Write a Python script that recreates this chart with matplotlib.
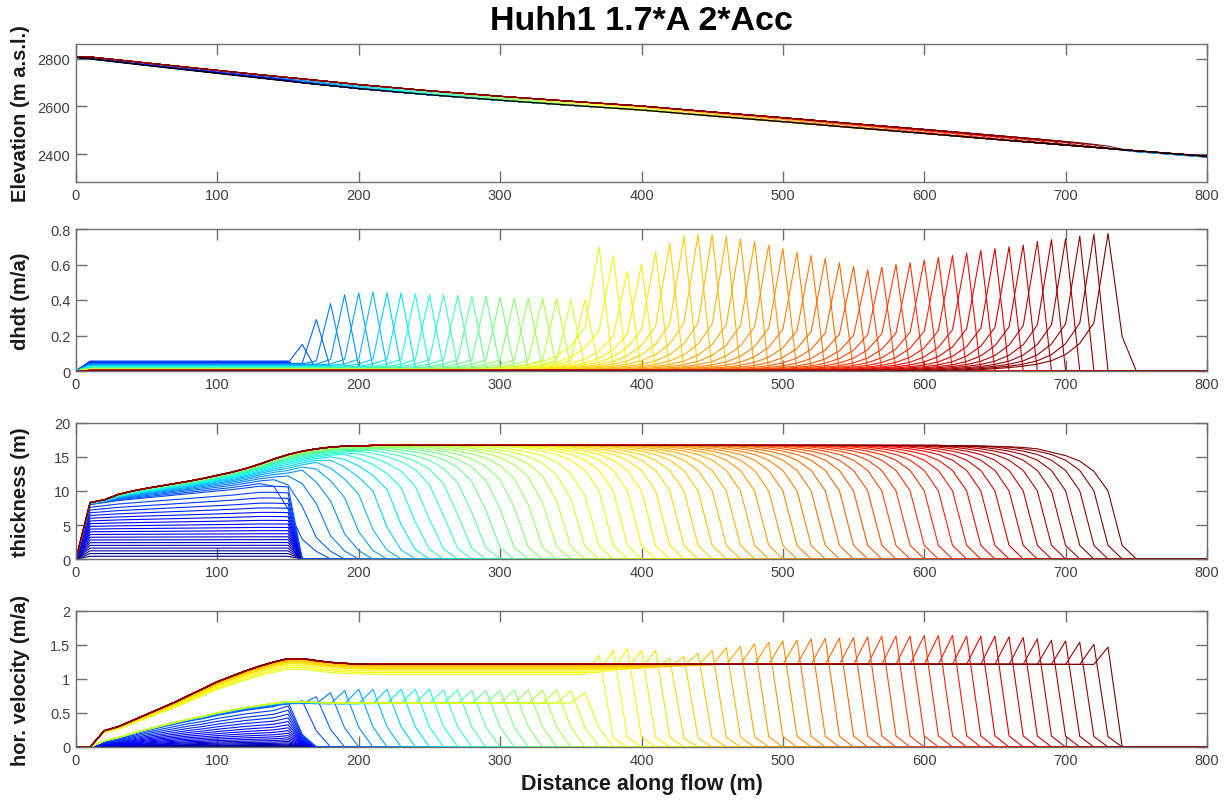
import numpy as np
import matplotlib
matplotlib.use("Agg")
import matplotlib.pyplot as plt

# ---------------- data ----------------
x = np.arange(0, 810, 10)                       # model grid (m)

bed_x = [0, 50, 100, 150, 200, 250, 300, 350, 400, 450, 500, 550, 600, 650, 700, 750, 800]
bed_z = [2806, 2772, 2739, 2706, 2675, 2649, 2626, 2605, 2585, 2560, 2536, 2511, 2487, 2462, 2438, 2414, 2391]

# final (steady) thickness profile, x = 0..800 step 10
thick_final = ([0.0, 8.3, 8.7, 9.5, 10.0, 10.4, 10.75, 11.1, 11.45, 11.85, 12.3, 12.75, 13.3,
                13.95, 14.7, 15.35, 15.85, 16.2, 16.45, 16.6, 16.65] + [16.7] * 41 +
               [16.65, 16.65, 16.6, 16.55, 16.5, 16.4, 16.2, 15.7, 15.2, 14.4, 12.9, 10.0, 2.0,
                0, 0, 0, 0, 0, 0])

# growth phase (glacier confined above x=150)
growth_h = [0.4, 0.8, 1.2, 1.6, 2.0, 2.4, 2.8, 3.2, 3.6, 4.0, 4.4, 4.8, 5.2, 5.6, 6.0, 6.4, 6.8, 7.2, 7.6, 8.0]
growth_top = [8.0, 8.3, 8.6, 8.8, 9.0, 9.2, 9.4, 9.6, 9.8, 10.0, 10.2, 10.45, 10.7, 10.7, 10.6]   # x=10..150
growth_rate = [0.046, 0.046, 0.047, 0.047, 0.048, 0.048, 0.049, 0.049, 0.05, 0.05,
               0.05, 0.051, 0.051, 0.052, 0.052, 0.053, 0.053, 0.054, 0.054, 0.055]

# velocity envelopes before / after the step (x = 0..800)
vel_env_A = [0, 0, 0.09, 0.14, 0.2, 0.26, 0.31, 0.36, 0.41, 0.45, 0.5, 0.54, 0.58, 0.61, 0.64,
             0.665, 0.665, 0.655, 0.65, 0.645] + [0.645] * 61
vel_env_B = [0, 0, 0.24, 0.3, 0.39, 0.48, 0.57, 0.66, 0.76, 0.86, 0.96, 1.04, 1.12, 1.19, 1.25,
             1.3, 1.3, 1.27, 1.245, 1.23, 1.22] + [1.215] * 60

# advance phase A (slow), position of dhdt / velocity peak
peak_x_A = [160, 170, 180, 190, 200, 210, 220, 230, 240, 250, 260, 270, 280, 290, 300,
            310, 320, 330, 340, 350, 360]
dhdt_peak_A = [0.15, 0.29, 0.38, 0.43, 0.44, 0.445, 0.44, 0.44, 0.435, 0.43, 0.43, 0.425, 0.42,
               0.42, 0.415, 0.41, 0.41, 0.41, 0.405, 0.40, 0.40]
vel_peak_A = [0.68, 0.74, 0.80, 0.83, 0.85, 0.85, 0.85, 0.85, 0.85, 0.85, 0.84, 0.84, 0.83,
              0.83, 0.83, 0.84, 0.84, 0.84, 0.84, 0.83, 0.80]
fill_A = [0.12, 0.24, 0.34, 0.43, 0.51, 0.58, 0.64, 0.70, 0.75, 0.79, 0.83, 0.86, 0.89, 0.91,
          0.93, 0.95, 0.965, 0.975, 0.985, 0.993, 1.0]
width_A = [1.8, 1.75, 1.7, 1.65, 1.6, 1.55, 1.5, 1.45, 1.4, 1.35, 1.3, 1.28, 1.25, 1.22, 1.2,
           1.18, 1.15, 1.12, 1.1, 1.08, 1.05]
base_A = [0.045, 0.042, 0.04, 0.037, 0.034, 0.031, 0.028, 0.026, 0.024, 0.022, 0.02, 0.018,
          0.016, 0.015, 0.014, 0.013, 0.012, 0.011, 0.01, 0.009, 0.008]
velfac_A = [0.95, 0.96, 0.97, 0.975, 0.98, 0.985, 0.99, 0.99, 0.995, 1, 1, 1, 1, 1, 1, 1, 1, 1, 1, 1, 1]

# advance phase B (fast)
peak_x_B = [370, 380, 390, 400, 410, 420, 430, 440, 450, 460, 470, 480, 490, 500, 510, 520, 530,
            540, 550, 560, 570, 580, 590, 600, 610, 620, 630, 640, 650, 660, 670, 680, 690, 700,
            710, 720, 730]
dhdt_peak_B = [0.70, 0.65, 0.56, 0.60, 0.67, 0.72, 0.76, 0.77, 0.77, 0.76, 0.745, 0.73, 0.71,
               0.69, 0.67, 0.65, 0.635, 0.61, 0.59, 0.57, 0.585, 0.60, 0.61, 0.625, 0.64, 0.65,
               0.665, 0.68, 0.69, 0.70, 0.71, 0.73, 0.74, 0.745, 0.76, 0.77, 0.775]
vel_peak_B = [1.35, 1.42, 1.45, 1.42, 1.42, 1.30, 1.33, 1.38, 1.42, 1.46, 1.48, 1.52, 1.54, 1.56,
              1.57, 1.59, 1.60, 1.60, 1.61, 1.62, 1.63, 1.63, 1.63, 1.64, 1.64, 1.64, 1.63, 1.63,
              1.63, 1.62, 1.61, 1.59, 1.57, 1.56, 1.54, 1.51, 1.47]
velfac_B = [0.88, 0.9, 0.92, 0.94, 0.95, 0.96, 0.97, 0.98, 0.985, 0.99] + [1.0] * 27
base_B = [0.007, 0.0065, 0.006, 0.0055, 0.005, 0.005, 0.0045, 0.0045, 0.004, 0.004] + [0.003] * 27
dhdt_toe_B = [0.0] * 36 + [0.25]      # dhdt just downstream of the peak (fraction of peak)
vel_toe_B = [0.1] * 36 + [0.0]        # velocity just downstream of the peak (fraction of peak)

# shape of the ice front and of the thinning wave (distance upstream, m)
front_d = [0, 10, 20, 30, 40, 50, 60, 70, 80, 90, 100]
front_g = [0, 0.12, 0.6, 0.78, 0.87, 0.92, 0.95, 0.97, 0.985, 0.993, 1.0]
tail_d = [0, 10, 20, 30, 40, 50, 60, 70, 80, 90, 100]
tail_A = [1, 0.15, 0.09, 0.06, 0.04, 0.03, 0.02, 0.015, 0.01, 0.005, 0]
tail_B = [1, 0.35, 0.2, 0.12, 0.075, 0.05, 0.035, 0.025, 0.017, 0.01, 0]

# ---------------- build the curves ----------------
E = np.array(thick_final)
bed = np.interp(x, bed_x, bed_z)
VA = np.array(vel_env_A)
VB = np.array(vel_env_B)
gt = np.array(growth_top)
deficit = np.zeros_like(E)
deficit[1:16] = E[1:16] - gt
deficit[16:] = deficit[15]

curves = []   # (time, H, dhdt, v)
n = len(x)
for k, h in enumerate(growth_h):
    H = np.zeros(n)
    H[1:16] = h + (gt - 8.0) * (h / 8.0) ** 4
    dh = np.zeros(n)
    dh[1:16] = growth_rate[k]
    s = 0.93 * (h / 8.0) ** 2
    v = np.zeros(n)
    v[1:15] = VA[1:15] * s
    v[15] = VA[15] * s * 1.08
    v[16] = VA[16] * s * 0.3
    curves.append((k, H, dh, v))


def advance(xp, P, Vp, fill, w, base, vfac, env, tail, dtoe, vtoe):
    ip = xp // 10
    f = xp + 20
    U = E - (1 - fill) * deficit
    d = f - x
    Hf = 16.7 * np.interp(d / w, front_d, front_g)
    Hf[d <= 0] = 0
    H = np.minimum(U, Hf)
    H[0] = 0
    dh = np.zeros(n)
    up = P * np.interp(xp - x[:ip + 1], tail_d, tail)
    dh[:ip + 1] = np.maximum(up, base)
    dh[0] = 0
    dh[ip + 1] = dtoe * P
    v = np.zeros(n)
    v[:ip] = env[:ip] * vfac
    v[ip] = Vp
    v[ip + 1] = vtoe * Vp
    return H, dh, v


for i, xp in enumerate(peak_x_A):
    H, dh, v = advance(xp, dhdt_peak_A[i], vel_peak_A[i], fill_A[i], width_A[i], base_A[i],
                       velfac_A[i], VA, tail_A, 0.05, 0.35)
    curves.append((20 + 2 * i, H, dh, v))
for i, xp in enumerate(peak_x_B):
    H, dh, v = advance(xp, dhdt_peak_B[i], vel_peak_B[i], 1.0, 1.0, base_B[i],
                       velfac_B[i], VB, tail_B, dhdt_toe_B[i], vel_toe_B[i])
    curves.append((61 + i, H, dh, v))

tmax = max(c[0] for c in curves)
cmap = plt.get_cmap("jet")

# ---------------- figure ----------------
plt.rcParams["font.family"] = ["Liberation Sans", "DejaVu Sans"]
fig = plt.figure(figsize=(12.27, 8.03), dpi=100)
L, W = 76 / 1227, 1131 / 1227
boxes = [(45, 183), (230, 372), (424, 560), (612, 748)]
axes = []
for top, bot in boxes:
    ax = fig.add_axes([L, 1 - bot / 803, W, (bot - top) / 803])
    axes.append(ax)

lw = 0.8
for t, H, dh, v in curves:
    c = cmap(t / tmax)
    axes[0].plot(x, bed + H, color=c, lw=0.7)
    axes[1].plot(x, dh, color=c, lw=lw)
    axes[2].plot(x, H, color=c, lw=lw)
    axes[3].plot(x, v, color=c, lw=lw)
axes[0].plot(bed_x, bed_z, color="black", lw=1.0)

ylims = [(2283, 2862), (0, 0.8), (0, 20), (0, 2)]
yticks = [[2400, 2600, 2800], [0, 0.2, 0.4, 0.6, 0.8], [0, 5, 10, 15, 20], [0, 0.5, 1, 1.5, 2]]
yticklabels = [["2400", "2600", "2800"], ["0", "0.2", "0.4", "0.6", "0.8"],
               ["0", "5", "10", "15", "20"], ["0", "0.5", "1", "1.5", "2"]]
ylabels = ["Elevation (m a.s.l.)", "dhdt (m/a)", "thickness (m)", "hor. velocity (m/a)"]
gray = "#6e6e6e"
for ax, yl, yt, ytl, lab in zip(axes, ylims, yticks, yticklabels, ylabels):
    ax.set_xlim(0, 800)
    ax.set_ylim(*yl)
    ax.set_xticks(range(0, 801, 100))
    ax.set_xticklabels([str(v) for v in range(0, 801, 100)])
    ax.set_yticks(yt)
    ax.set_yticklabels(ytl)
    ax.tick_params(direction="in", length=8, width=1.0, color=gray, labelcolor="#404040",
                   labelsize=10.5, top=True, right=True, pad=4)
    for sp in ax.spines.values():
        sp.set_color(gray)
        sp.set_linewidth(1.0)
    ax.set_ylabel(lab, fontsize=14.5, fontweight="bold", color="#1a1a1a")
    ax.yaxis.set_label_coords(-0.041, 0.5)

axes[3].set_xlabel("Distance along flow (m)", fontsize=15.5, fontweight="bold",
                   color="#1a1a1a", labelpad=5)
fig.text(641 / 1227, 1 - 21 / 803, "Huhh1 1.7*A 2*Acc", ha="center", va="center",
         fontsize=24.5, fontweight="bold", color="black")

fig.savefig("out.png", dpi=100)
